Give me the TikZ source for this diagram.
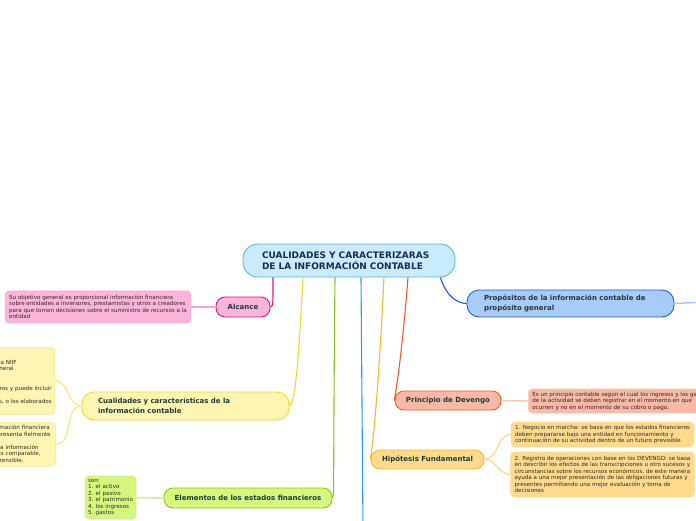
\documentclass[tikz,border=0pt]{standalone}
\usepackage{fontspec}
\setmainfont{DejaVu Sans}
\usetikzlibrary{calc}
\definecolor{tealink}{HTML}{1D3B3A}
\definecolor{navyink}{HTML}{1B2A5A}
\definecolor{noteink}{HTML}{2E2A22}
\definecolor{rootfill}{HTML}{C9ECFC}
\definecolor{rootline}{HTML}{5AB3EA}
\definecolor{pinkfill}{HTML}{FBB4DA}
\definecolor{pinkline}{HTML}{E5157D}
\definecolor{pinklite}{HTML}{F7A6D0}
\definecolor{yelfill}{HTML}{FFF5B3}
\definecolor{yelline}{HTML}{EFD92E}
\definecolor{yellite}{HTML}{F8E98F}
\definecolor{grnfill}{HTML}{D6F77E}
\definecolor{grnline}{HTML}{8CC21C}
\definecolor{grnlite}{HTML}{CDEB98}
\definecolor{cyanline}{HTML}{1EA3E6}
\definecolor{blufill}{HTML}{A9CBFA}
\definecolor{bluline}{HTML}{1E5ED8}
\definecolor{blulite}{HTML}{A3C6F5}
\definecolor{redfill}{HTML}{F9B9A6}
\definecolor{redline}{HTML}{EF5A2C}
\definecolor{redlite}{HTML}{F9C5B5}
\definecolor{orgfill}{HTML}{FFDA8C}
\definecolor{orgline}{HTML}{F8B82B}
\definecolor{orglite}{HTML}{FCDC98}
\tikzset{
  every picture/.style={x=1pt,y=-1pt,line width=0.9pt},
  topic/.style={draw,rounded corners=9pt,align=center,inner sep=0pt,
    font=\fontsize{7}{10}\selectfont\bfseries,text=tealink},
  note/.style={draw,rounded corners=4pt,align=left,inner ysep=0pt,inner xsep=4pt,
    line width=0.6pt,font=\fontsize{5.6}{6.5}\selectfont,text=noteink},
  link/.style={line width=1.1pt},
  twig/.style={line width=1.4pt},
}
\begin{document}
\begin{tikzpicture}
  \useasboundingbox (0,0) rectangle (696,520);
  \fill[white] (0,0) rectangle (696,520);
  \clip (0,0) rectangle (696,520);
  % central topic
  \node[topic,fill=rootfill,draw=rootline,rounded corners=15pt,text=navyink,
    font=\fontsize{9}{11}\selectfont\bfseries,minimum width=212pt,minimum height=33pt,
    text width=174pt,align=left] (root) at (349,260.5)
    {CUALIDADES Y CARACTERIZARAS\\DE LA INFORMACIÓN CONTABLE};
  % left branches
  \node[topic,fill=pinkfill,draw=pinkline,minimum width=54pt,minimum height=20pt] (alc) at (243,307) {Alcance};
  \node[note,fill=pinkfill,draw=pinklite,minimum width=184pt,minimum height=32pt] (alcd) at (98,307)
    {Su objetivo general es proporcional información financiera\\sobre entidades a inversores, prestamistas y otros a creadores\\para que tomen decisiones sobre el suministro de recursos a la\\entidad};
  \node[topic,fill=yelfill,draw=yelline,rounded corners=12pt,minimum width=207pt,minimum height=28pt,
    text width=175pt,align=left] (cual) at (185.5,406)
    {Cualidades y características de la\\información contable};
  \node[note,fill=yelfill,draw=yellite,anchor=north east,minimum height=67pt,text width=200pt,inner xsep=3pt] (yb1) at (55,347)
    {~\\
     \makebox[165pt][r]{Se fundamentan en el marco conceptual de la NIIF}\\
     \makebox[162pt][r]{para la información financiera de propósito general}\\
     ~\\ ~\\
     \makebox[200pt][r]{Se aplica a los estados financieros y puede incluir}\\
     ~\\
     \makebox[200pt][r]{los estados financieros consolidados, o los elaborados}};
  \node[note,fill=yelfill,draw=yellite,anchor=north east,minimum height=44pt,text width=200pt,inner xsep=3pt] (yb2) at (56,422)
    {\makebox[197pt][r]{La información financiera}\\
     \makebox[198pt][r]{es útil si es relevante y representa fielmente}\\
     ~\\
     \makebox[186pt][r]{La utilidad de la información}\\
     \makebox[188pt][r]{financiera se mejora si es comparable,}\\
     \makebox[171pt][r]{verificable, oportuna y comprensible.}};
  \node[topic,fill=grnfill,draw=grnline,minimum width=168pt,minimum height=20pt] (elem) at (248,498)
    {Elementos de los estados financieros};
  \node[note,fill=grnfill,draw=grnlite,inner xsep=3pt,minimum width=51pt,minimum height=43pt] (son) at (110.5,497.5)
    {son:\\1. el activo\\2. el pasivo\\3. el patrimonio\\4. los ingresos\\5. gastos};
  % right branches
  \node[topic,fill=blufill,draw=bluline,rounded corners=12pt,minimum width=207pt,minimum height=27pt,
    text width=173pt,align=left] (prop) at (570.5,303.5)
    {Propósitos de la información contable de\\propósito general};
  \node[topic,fill=redfill,draw=redline,minimum width=106pt,minimum height=19pt] (dev) at (448,400.5)
    {Principio de Devengo};
  \node[note,fill=redfill,draw=redlite,anchor=west,minimum height=24pt] (devd) at (528,401)
    {Es un principio contable según el cual los ingresos y los gastos\\de la actividad se deben registrar en el momento en que\\ocurren y no en el momento de su cobro o pago.};
  \node[topic,fill=orgfill,draw=orgline,minimum width=113pt,minimum height=19pt] (hip) at (427.5,459.5)
    {Hipótesis Fundamental};
  \node[note,fill=orgfill,draw=orglite,minimum width=183pt,minimum height=25pt] (hy1) at (602.5,434.5)
    {1. Negocio en marcha: se basa en que los estados financieros\\deben prepararse bajo una entidad en funcionamiento y\\continuación de su actividad dentro de un futuro previsible};
  \node[note,fill=orgfill,draw=orglite,minimum width=183pt,minimum height=45pt] (hy2) at (602.5,474.5)
    {2. Registro de operaciones con base en los DEVENGO: se basa\\en describir los efectos de las transcripciones u otro sucesos y\\circunstancias sobre los recursos económicos, de este manera\\ayuda a una mejor presentación de las obligaciones futuras y\\presentes permitiendo una mejor evaluación y toma de\\decisiones};
  \coordinate (offb) at (363,530);
  \coordinate (offr) at (705,302);
  % connectors from the central topic
  \draw[link,pinkline] ([xshift=-76pt]root.south) .. controls +(0,24) and +(3,0) .. (alc.east);
  \draw[link,yelline] ([xshift=-46pt]root.south) .. controls +(-6,115) and +(4,-4) .. (cual.east);
  \draw[link,grnline] ([xshift=-14pt]root.south) .. controls +(-2,205) and +(2,-4) .. (elem.east);
  \draw[link,cyanline] ([xshift=12pt]root.south) -- (offb);
  \draw[link,orgline] ([xshift=35pt]root.south) .. controls +(-8,160) and +(0,-6) .. (hip.west);
  \draw[link,redline] ([xshift=59pt]root.south) .. controls +(-8,100) and +(0,-6) .. (dev.west);
  \draw[link,bluline] ([xshift=-15pt]root.south east) .. controls +(6,20) and +(-8,0) .. (prop.west);
  % connectors to the notes
  \draw[twig,pinklite] (alc.west) -- (alcd.east);
  \draw[twig,yellite] (cual.west) to[out=180,in=0] (yb1.east);
  \draw[twig,yellite] (cual.west) to[out=180,in=0] (yb2.east);
  \draw[twig,grnlite] (elem.west) -- (son.east);
  \draw[twig,blulite] (prop.east) -- (offr);
  \draw[twig,redlite] (dev.east) -- (devd.west);
  \draw[twig,orglite] (hip.east) to[out=0,in=180] (hy1.west);
  \draw[twig,orglite] (hip.east) to[out=0,in=180] (hy2.west);
\end{tikzpicture}
\end{document}
